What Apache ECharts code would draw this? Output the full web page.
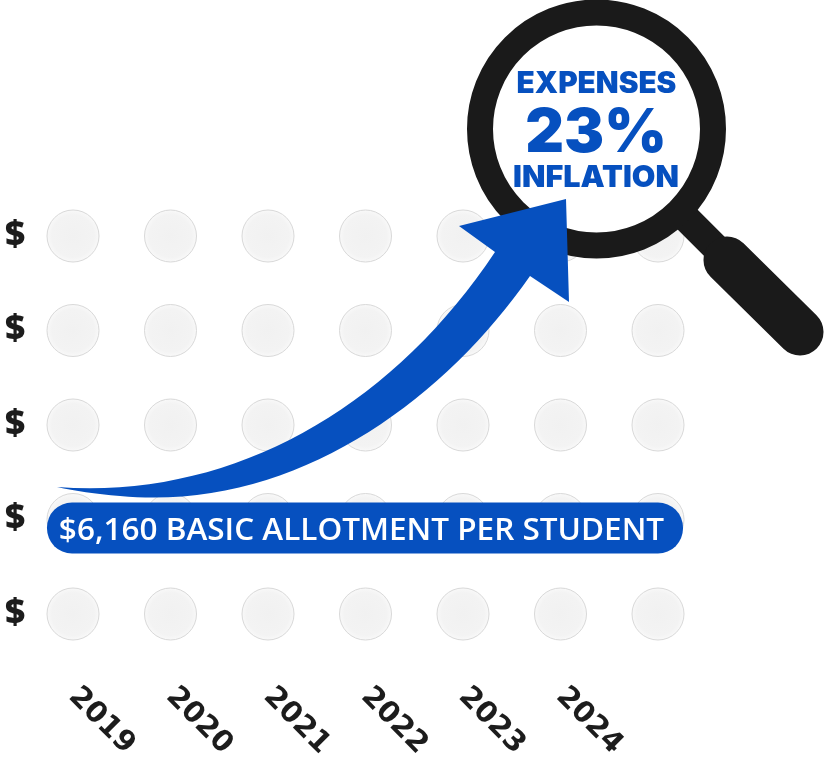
<!DOCTYPE html>
<html><head><meta charset="utf-8">
<style>html,body{margin:0;padding:0;background:#fff}#c{width:824px;height:760px}</style>
<script src="https://cdn.jsdelivr.net/npm/echarts@6/dist/echarts.min.js"></script>
</head><body><div id="c"></div>
<script>
const years = ['2019','2020','2021','2022','2023','2024',''];
const rowLabels = ['$','$','$','$','$'];
const dotCells = [];
for (let x = 0; x < years.length; x++) for (let y = 0; y < rowLabels.length; y++) dotCells.push([x, y]);
const allotmentLabel = '$6,160 BASIC ALLOTMENT PER STUDENT';
const allotmentBar = [[0, 6, 1]];
const calloutLines = ['EXPENSES', '23%', 'INFLATION'];
const BLUE = '#0650bf', INK = '#1c1c1c';
const heavy = 'Inter, Lato, sans-serif';
const arrowPath = 'M57 487 C 230 500 390 410 495 252 L 459 226 L 566 199 L 569 302 L 530 276 C 440 405 290 512 120 496 C 95 494 75 491 57 487 Z';

const chart = echarts.init(document.getElementById('c'), null, {renderer: 'canvas'});
chart.setOption({
  animation: false,
  backgroundColor: '#fff',
  grid: {left: 24.25, top: 188.75, width: 682.5, height: 472.5, outerBoundsMode: 'none'},
  xAxis: {
    type: 'category', data: years, position: 'bottom',
    axisLine: {show: false}, axisTick: {show: false}, splitLine: {show: false},
    axisLabel: {interval: 0, rotate: -45, margin: 31, color: INK, fontFamily: 'DejaVu Sans', fontWeight: 'bold', fontSize: 29}
  },
  yAxis: {
    type: 'category', data: rowLabels,
    axisLine: {show: false}, axisTick: {show: false}, splitLine: {show: false},
    axisLabel: {interval: 0, margin: -1, padding: [2, 0, 0, 0], color: INK, fontFamily: 'Open Sans', fontWeight: 800, fontSize: 35}
  },
  series: [
    {type: 'scatter', data: dotCells, symbol: 'circle', symbolSize: 52, z: 2, silent: true,
     itemStyle: {
       color: {type: 'radial', x: 0.5, y: 0.5, r: 0.5, colorStops: [{offset: 0, color: '#f1f1f1'}, {offset: 0.8, color: '#f3f3f3'}, {offset: 1, color: '#f9f9f9'}]},
       borderColor: '#d9d9d9', borderWidth: 1, opacity: 1}},
    {type: 'custom', data: allotmentBar, z: 3, silent: true,
     encode: {x: [0, 1], y: 2},
     renderItem(params, api) {
       const a = api.coord([api.value(0), api.value(2)]);
       const b = api.coord([api.value(1), api.value(2)]);
       const x = a[0] - 26, w = b[0] - a[0] + 51, y = a[1] - 17, h = 51;
       return {type: 'group', children: [
         {type: 'rect', shape: {x, y, width: w, height: h, r: 25}, style: {fill: BLUE}},
         {type: 'text', style: {x: x + w / 2 - 3.5, y: y + h / 2 + 3, text: allotmentLabel, align: 'center', verticalAlign: 'middle',
           fill: '#fff', font: '600 31.5px "Open Sans", sans-serif'}}
       ]};
     }},
    {type: 'custom', coordinateSystem: 'none', data: [[0]], z: 12, silent: true,
     renderItem() { return {type: 'path', shape: {pathData: arrowPath}, style: {fill: BLUE}}; }}
  ],
  graphic: [
    {type: 'circle', z: 10, silent: true, shape: {cx: 596.5, cy: 129, r: 116.5}, style: {fill: '#fff', stroke: '#1a1a1a', lineWidth: 26}},
    {type: 'line', z: 9, silent: true, shape: {x1: 680, y1: 212, x2: 735, y2: 267}, style: {stroke: '#1a1a1a', lineWidth: 28}},
    {type: 'line', z: 9, silent: true, shape: {x1: 727, y1: 260, x2: 800, y2: 332}, style: {stroke: '#1a1a1a', lineWidth: 47, lineCap: 'round'}},
    {type: 'text', z: 11, silent: true, style: {x: 596.5, y: 84.5, text: calloutLines[0], align: 'center', verticalAlign: 'middle', fill: BLUE, font: '900 29.7px ' + heavy}},
    {type: 'text', z: 11, silent: true, style: {x: 596, y: 134, text: calloutLines[1], align: 'center', verticalAlign: 'middle', fill: BLUE, font: '900 60px ' + heavy}},
    {type: 'text', z: 11, silent: true, style: {x: 596, y: 178, text: calloutLines[2], align: 'center', verticalAlign: 'middle', fill: BLUE, font: '900 30.5px ' + heavy}}
  ]
});
</script></body></html>
